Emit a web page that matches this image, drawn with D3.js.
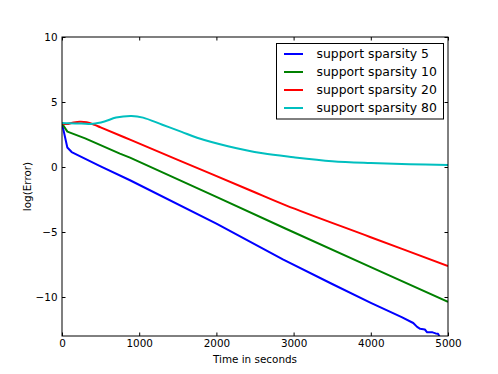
<!DOCTYPE html>
<html><head><meta charset="utf-8">
<script src="https://cdn.jsdelivr.net/npm/d3@7"></script>
<style>body{margin:0;background:#fff}svg{display:block}</style>
</head><body>
<svg id="c" width="498" height="374"></svg>
<script>
const seriesNames = ["support sparsity 5","support sparsity 10","support sparsity 20","support sparsity 80"];
const seriesColors = ["#0000ff","#008000","#ff0000","#00bfbf"];
const sparsity5 = [[0,3.35],[69,1.5],[125,1.15],[500,0.05],[881,-1.02],[2000,-4.35],[2867,-7.12],[3500,-9.0],[4000,-10.45],[4400,-11.55],[4550,-12.0],[4600,-12.3],[4640,-12.45],[4700,-12.5],[4730,-12.72],[4800,-12.72],[4840,-12.8],[4870,-12.82],[4900,-13.15]];
const sparsity10 = [[0,3.35],[70,2.72],[300,2.2],[750,1.03],[881,0.72],[2000,-2.3],[2900,-4.75],[4000,-7.7],[5000,-10.38]];
const sparsity20 = [[0,3.35],[60,3.3],[150,3.42],[230,3.48],[320,3.44],[420,3.25],[500,3.05],[881,2.1],[1500,0.55],[2435,-1.79],[2900,-2.95],[3990,-5.38],[5000,-7.62]];
const sparsity80 = [[0,3.38],[100,3.36],[250,3.35],[400,3.32],[550,3.5],[700,3.8],[900,3.92],[1050,3.8],[1300,3.25],[1550,2.7],[1750,2.25],[2150,1.6],[2600,1.05],[3000,0.75],[3500,0.45],[4000,0.31],[4500,0.22],[5000,0.15]];
const allSeries = [sparsity5, sparsity10, sparsity20, sparsity80];
const xTicks = [0,1000,2000,3000,4000,5000];
const yTicks = [-10,-5,0,5,10];
const xLabel = "Time in seconds";
const yLabel = "log(Error)";

const svg = d3.select("#c");
const L=62, R=448, T=37, B=336;
const x = d3.scaleLinear().domain([0,5000]).range([L,R]);
const y = d3.scaleLinear().domain([-13,10]).range([B,T]);
const font = "'DejaVu Sans', sans-serif";

svg.append("defs").append("clipPath").attr("id","clip")
  .append("rect").attr("x",L).attr("y",T).attr("width",R-L).attr("height",B-T);

const curves = [d3.curveLinear, d3.curveLinear, d3.curveCatmullRom.alpha(0.5), d3.curveCatmullRom.alpha(0.5)];
const g = svg.append("g").attr("clip-path","url(#clip)");
allSeries.forEach((s,i)=>{
  const line = d3.line().x(d=>x(d[0])).y(d=>y(d[1])).curve(curves[i]);
  g.append("path").attr("d",line(s)).attr("fill","none")
   .attr("stroke",seriesColors[i]).attr("stroke-width",2).attr("stroke-linejoin","round");
});

const fmt = v => v<0 ? "\u2212"+Math.abs(v) : String(v);
const axB = d3.axisBottom(x).tickValues(xTicks).tickSizeInner(-3.5).tickSizeOuter(0).tickPadding(4).tickFormat(fmt);
const axT = d3.axisTop(x).tickValues(xTicks).tickSizeInner(-3.5).tickSizeOuter(0).tickFormat("");
const axL = d3.axisLeft(y).tickValues(yTicks).tickSizeInner(-3.5).tickSizeOuter(0).tickPadding(4.5).tickFormat(fmt);
const axR = d3.axisRight(y).tickValues(yTicks).tickSizeInner(-3.5).tickSizeOuter(0).tickFormat("");
[[axB,`translate(0,${B})`],[axT,`translate(0,${T})`],[axL,`translate(${L},0)`],[axR,`translate(${R},0)`]].forEach(([a,t])=>{
  const gg = svg.append("g").attr("transform",t).call(a);
  gg.select(".domain").remove();
  gg.selectAll("line").attr("stroke","#000").attr("stroke-width",1);
  gg.selectAll("text").attr("font-family",font).attr("font-size",10.4).attr("fill","#000");
});
svg.append("rect").attr("x",L).attr("y",T).attr("width",R-L).attr("height",B-T)
  .attr("fill","none").attr("stroke","#000").attr("stroke-width",1);

svg.append("text").attr("x",(L+R)/2).attr("y",363).attr("text-anchor","middle")
  .attr("font-family",font).attr("font-size",10.4).text(xLabel);
svg.append("text").attr("transform",`translate(31,${(T+B)/2}) rotate(-90)`).attr("text-anchor","middle")
  .attr("font-family",font).attr("font-size",10.4).text(yLabel);

const lg = svg.append("g");
lg.append("rect").attr("x",276.5).attr("y",43.5).attr("width",167).attr("height",75.5)
  .attr("fill","#fff").attr("stroke","#000").attr("stroke-width",1);
seriesNames.forEach((n,i)=>{
  const yy = 54 + i*18;
  lg.append("line").attr("x1",284).attr("x2",303).attr("y1",yy).attr("y2",yy)
    .attr("stroke",seriesColors[i]).attr("stroke-width",2);
  lg.append("text").attr("x",316.5).attr("y",yy+4.3).attr("font-family",font)
    .attr("font-size",12.4).text(n);
});
</script>
</body></html>
